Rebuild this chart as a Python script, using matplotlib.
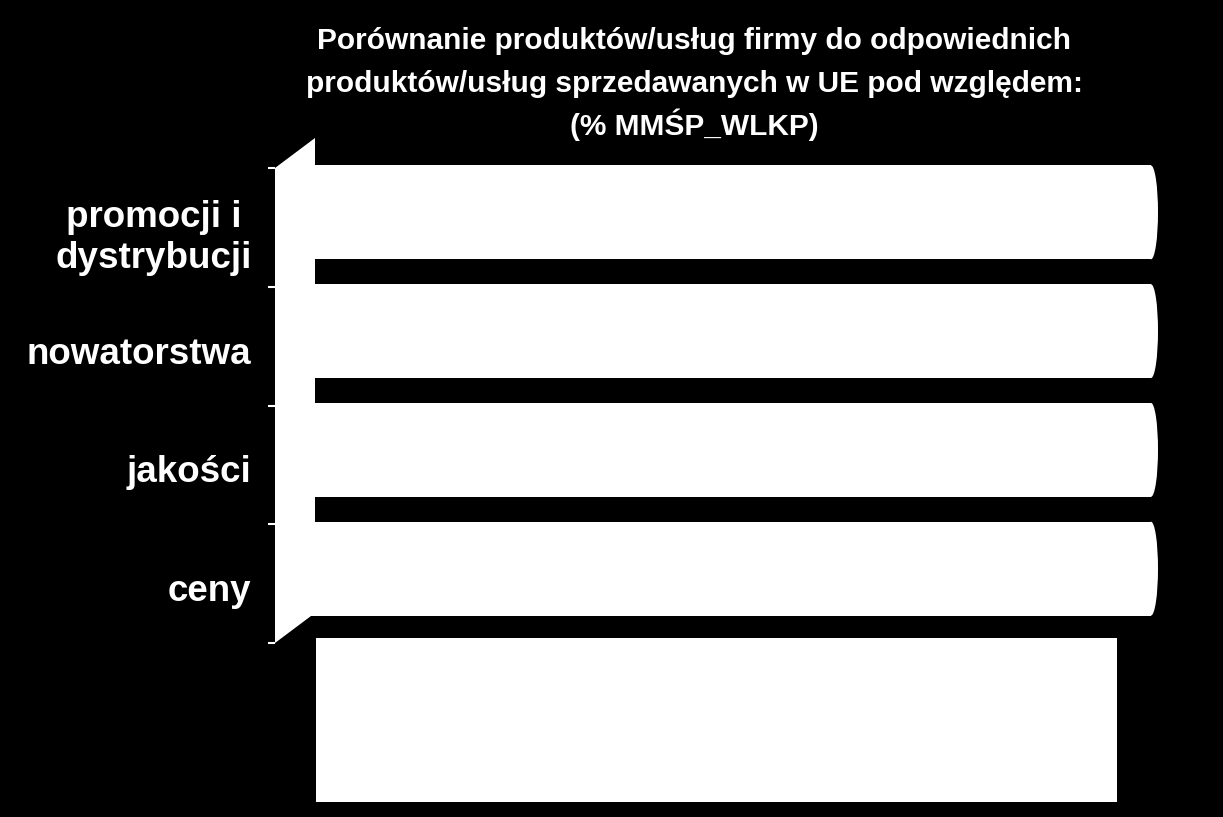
import matplotlib
matplotlib.use("Agg")
import matplotlib.pyplot as plt
from matplotlib.patches import Ellipse, Polygon, Rectangle
from matplotlib.transforms import offset_copy, ScaledTranslation

# dane (wszystkie serie 100% -> slupki do konca)
categories = ["ceny", "jakości", "nowatorstwa", "promocji i \ndystrybucji"]
values = [100, 100, 100, 100]
title_lines = ["Porównanie produktów/usług firmy do odpowiednich",
               "produktów/usług sprzedawanych w UE pod względem:",
               "(% MMŚP_WLKP)"]

W, H = 1223, 817
fig = plt.figure(figsize=(W / 100, H / 100), dpi=100, facecolor="black")

# przednia plaszczyzna wykresu 3D (piksele)
x0, x1 = 275, 1200
ytop, ybot = 168, 643
ax = fig.add_axes([x0 / W, 1 - ybot / H, (x1 - x0) / W, (ybot - ytop) / H])
ax.set_facecolor("black")

px_per_unit = 8.56
ax.set_xlim(0, (x1 - x0) / px_per_unit)
ax.set_ylim(-0.5, len(categories) - 0.5)
py_per_unit = (ybot - ytop) / len(categories)

# glebokosc 3D
depth_dx, depth_dy = 40, 30

# sciana boczna
dxd = depth_dx / px_per_unit
dyd = depth_dy / py_per_unit
wall = Polygon([(0, -0.5), (0, len(categories) - 0.5),
                (dxd, len(categories) - 0.5 + dyd), (dxd, -0.5 + dyd)],
               closed=True, facecolor="white", edgecolor="none", zorder=1,
               clip_on=False)
ax.add_patch(wall)

# slupki w polowie glebokosci
mid = offset_copy(ax.transData, fig=fig, x=depth_dx / 2, y=depth_dy / 2, units="dots")
bar_h = 0.79
ypos = list(range(len(categories)))
bars = ax.barh(ypos, values, height=bar_h, color="white", edgecolor="none",
               transform=mid, zorder=2)
for b in bars:
    b.set_clip_on(False)
cap_w = 14 / px_per_unit
for y, v in zip(ypos, values):
    ax.add_patch(Ellipse((v, y), cap_w, bar_h, facecolor="white",
                         edgecolor="none", transform=mid, zorder=2,
                         clip_on=False))

# osie
for s in ax.spines.values():
    s.set_visible(False)
ax.set_xticks([])
ax.set_yticks(ypos)
ax.set_yticklabels(categories, fontsize=26.5, fontweight="bold", color="white",
                   family=["Liberation Sans", "DejaVu Sans"])
ax.set_yticks([i - 0.5 for i in range(len(categories) + 1)], minor=True)
ax.tick_params(axis="y", which="major", length=0, pad=17)
ax.tick_params(axis="y", which="minor", length=5, width=1.5, color="white",
               direction="out")
# etykiety troche nizej, jak w oryginale
for t in ax.get_yticklabels():
    t.set_transform(t.get_transform() + ScaledTranslation(0, -4 / 100, fig.dpi_scale_trans))

# tytul (trzy linie, stale odstepy)
for i, line in enumerate(title_lines):
    fig.text(694 / W, 1 - (49 + 43 * i) / H, line, ha="center", va="baseline",
             fontsize=21.5, fontweight="bold", color="white",
             family=["Liberation Sans", "DejaVu Sans"])

# biale pole pod wykresem (legenda)
fig.patches.append(Rectangle((316 / W, 1 - 802 / H), (1117 - 316) / W,
                             (802 - 638) / H, transform=fig.transFigure,
                             facecolor="white", edgecolor="none"))

fig.savefig("out.png", dpi=100, facecolor="black")
